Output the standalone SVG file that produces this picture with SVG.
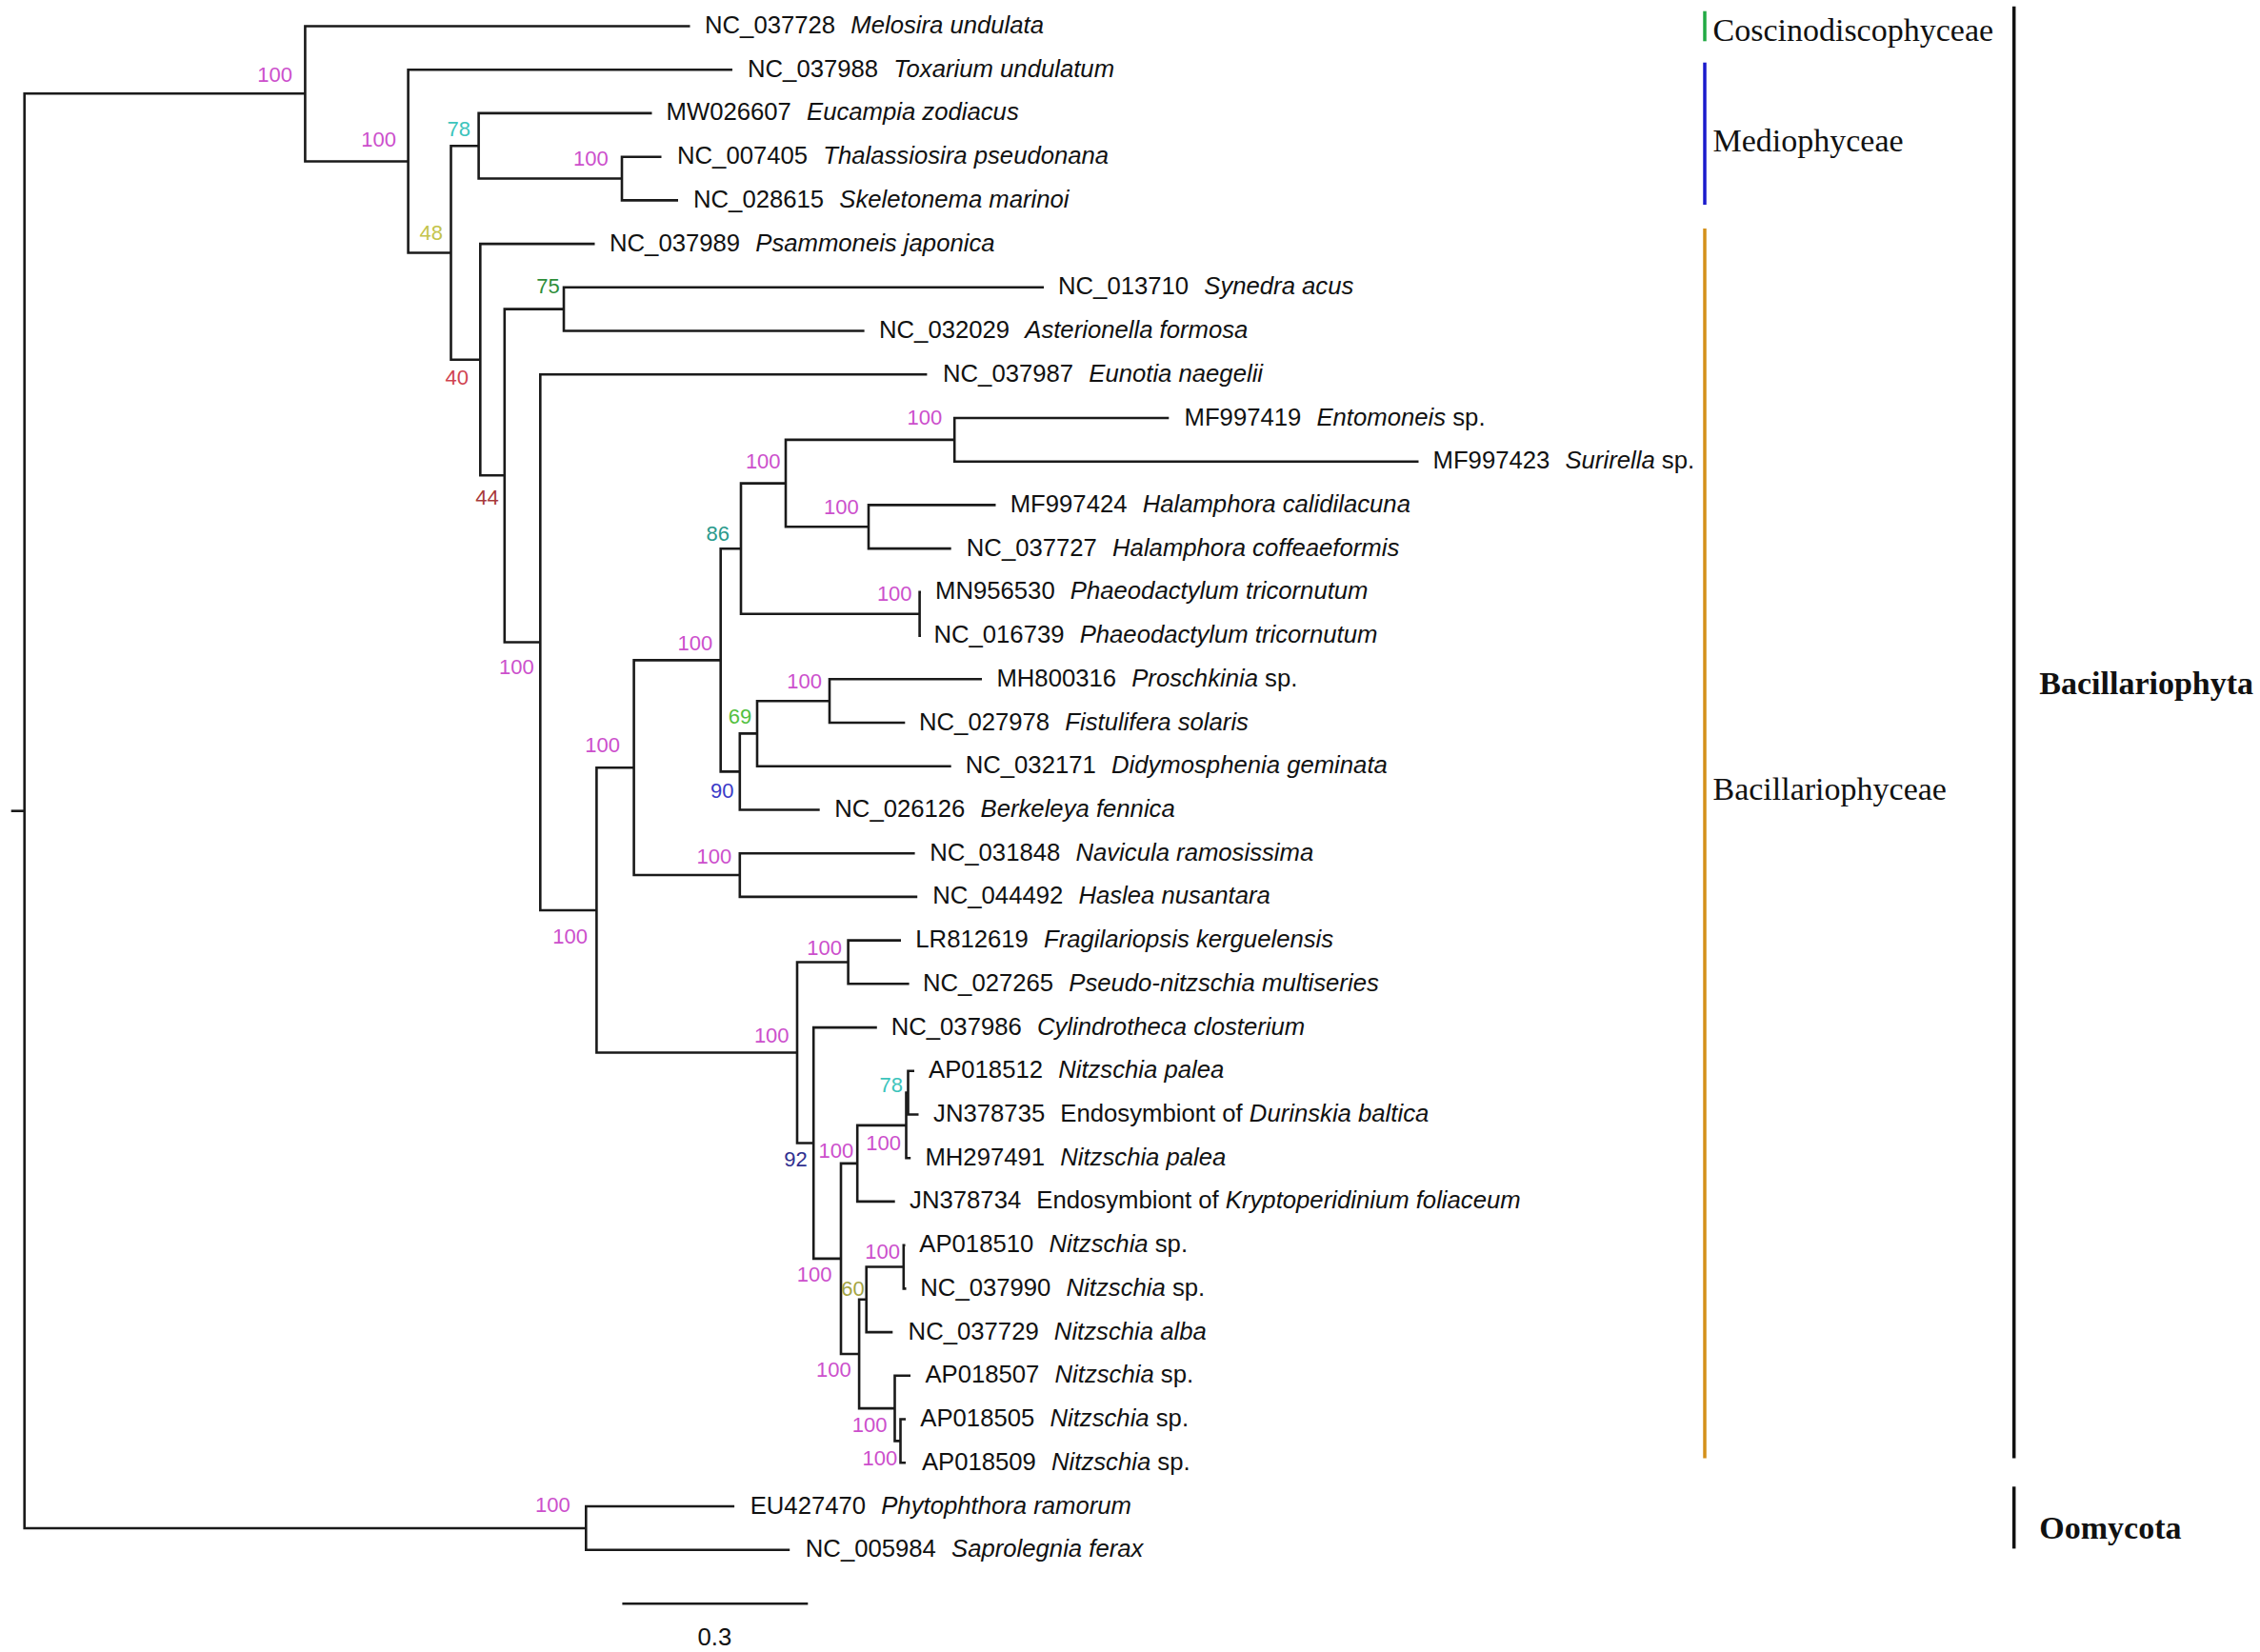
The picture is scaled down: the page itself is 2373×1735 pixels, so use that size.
<svg xmlns="http://www.w3.org/2000/svg" width="2373" height="1735" viewBox="0 0 2373 1735">
<style>
.br{fill:none;stroke:#1a1a1a;stroke-width:2.6;stroke-linejoin:miter}
.lf{font-family:"Liberation Sans",Arial,sans-serif;font-size:25.7px;fill:#111}
.it{font-style:italic}
.bs{font-family:"Liberation Sans",Arial,sans-serif;font-size:22px;text-anchor:end}
.m{fill:#cc4fcc}.cy{fill:#3cc4bc}.yl{fill:#c4c44c}.rd{fill:#d04450}.dr{fill:#a83a3a}.gr{fill:#2e8e3a}.tl{fill:#2a9a8c}.lg{fill:#52c040}.bl{fill:#3a3ac8}.nv{fill:#303090}.ol{fill:#a4a444}
.cl{font-family:"Liberation Serif","Times New Roman",serif;font-size:34px;fill:#111}
.ph{font-weight:bold}
</style>
<rect width="2373" height="1735" fill="#fff"/>
<g id="connectors">
<path class="br" d="M11.7 851.7 H25.7"/>
<path class="br" d="M320.4 98.3 H25.7 V1605 H615.3"/>
<path class="br" d="M724.5 27.5 H320.4 V169.5 H428.6"/>
<path class="br" d="M769 73.2 H428.6 V265.5 H473.5"/>
<path class="br" d="M502.6 153.3 H473.5 V377.7 H504.3"/>
<path class="br" d="M684.5 118.9 H502.6 V187.5 H653"/>
<path class="br" d="M694.5 164.7 H653 V210.4 H712"/>
<path class="br" d="M624.5 256.1 H504.3 V499.3 H529.8"/>
<path class="br" d="M592 324.6 H529.8 V674.5 H567.3"/>
<path class="br" d="M1096 301.8 H592 V347.5 H907.6"/>
<path class="br" d="M973.4 393.3 H567.3 V956 H626.4"/>
<path class="br" d="M665.6 806.2 H626.4 V1105.5 H837"/>
<path class="br" d="M756.7 693.4 H665.6 V919 H776.8"/>
<path class="br" d="M778 576.2 H756.7 V810.4 H776.8"/>
<path class="br" d="M825 507.6 H778 V644.7 H965.6"/>
<path class="br" d="M1002.2 461.9 H825 V553.3 H912"/>
<path class="br" d="M1227.3 439 H1002.2 V484.7 H1489.5"/>
<path class="br" d="M1045.5 530.4 H912 V576.1 H998.7"/>
<path class="br" d="M967 621.9 H965.6 V667.6 H967"/>
<path class="br" d="M795 770.4 H776.8 V850.5 H860.7"/>
<path class="br" d="M871 736.2 H795 V804.7 H998.7"/>
<path class="br" d="M1031 713.3 H871 V759 H950.3"/>
<path class="br" d="M960.6 896.2 H776.8 V941.9 H963.2"/>
<path class="br" d="M890.6 1010.5 H837 V1200.5 H854.2"/>
<path class="br" d="M946 987.6 H890.6 V1033.3 H954.6"/>
<path class="br" d="M920.8 1079.1 H854.2 V1321.9 H883"/>
<path class="br" d="M900.2 1221.9 H883 V1422 H902.1"/>
<path class="br" d="M951.5 1181.9 H900.2 V1261.9 H939.7"/>
<path class="br" d="M953.5 1147.6 H951.5 V1216.2 H956.2"/>
<path class="br" d="M960 1124.8 H953.5 V1170.5 H964.5"/>
<path class="br" d="M909.7 1364.8 H902.1 V1479.1 H939.5"/>
<path class="br" d="M948.8 1330.5 H909.7 V1399.1 H937.3"/>
<path class="br" d="M950.5 1307.7 H948.8 V1353.4 H951.5"/>
<path class="br" d="M956 1444.8 H939.5 V1513.4 H945.5"/>
<path class="br" d="M951 1490.5 H945.5 V1536.3 H951"/>
<path class="br" d="M771.1 1582 H615.3 V1627.7 H829.2"/>
</g>
<g id="support">
<text class="bs m" x="307" y="85.7">100</text>
<text class="bs m" x="416" y="153.5">100</text>
<text class="bs cy" x="494" y="142.7">78</text>
<text class="bs m" x="638.8" y="174">100</text>
<text class="bs yl" x="465" y="252.3">48</text>
<text class="bs rd" x="492" y="404.3">40</text>
<text class="bs gr" x="587.8" y="308.3">75</text>
<text class="bs dr" x="523.7" y="529.8">44</text>
<text class="bs m" x="560.7" y="708">100</text>
<text class="bs m" x="617" y="990.6">100</text>
<text class="bs m" x="651" y="790">100</text>
<text class="bs m" x="748.2" y="683.4">100</text>
<text class="bs tl" x="766" y="567.7">86</text>
<text class="bs m" x="819.6" y="491.9">100</text>
<text class="bs m" x="989.3" y="445.6">100</text>
<text class="bs m" x="901.8" y="540.3">100</text>
<text class="bs m" x="957.6" y="630.8">100</text>
<text class="bs m" x="863" y="723.4">100</text>
<text class="bs lg" x="789.3" y="759.5">69</text>
<text class="bs bl" x="770.5" y="838.4">90</text>
<text class="bs m" x="768.3" y="906.8">100</text>
<text class="bs m" x="828.6" y="1095">100</text>
<text class="bs m" x="884" y="1002.7">100</text>
<text class="bs nv" x="847.7" y="1225">92</text>
<text class="bs m" x="873.4" y="1346.4">100</text>
<text class="bs m" x="896.3" y="1215.6">100</text>
<text class="bs cy" x="948" y="1147">78</text>
<text class="bs m" x="946" y="1208">100</text>
<text class="bs m" x="945" y="1321.9">100</text>
<text class="bs ol" x="907.8" y="1360.7">60</text>
<text class="bs m" x="893.7" y="1445.5">100</text>
<text class="bs m" x="931.5" y="1503.6">100</text>
<text class="bs m" x="942.3" y="1539.3">100</text>
<text class="bs m" x="598.7" y="1588.3">100</text>
</g>
<g id="leaves" transform="translate(0,-1.5)">
<g id="leaf1"><text class="lf" x="740" y="36.5">NC_037728 <tspan class="it" dx="9">Melosira undulata</tspan></text></g>
<g id="leaf2"><text class="lf" x="785" y="82.2">NC_037988 <tspan class="it" dx="9">Toxarium undulatum</tspan></text></g>
<g id="leaf3"><text class="lf" x="699.5" y="127.9">MW026607 <tspan class="it" dx="9">Eucampia zodiacus</tspan></text></g>
<g id="leaf4"><text class="lf" x="711" y="173.7">NC_007405 <tspan class="it" dx="9">Thalassiosira pseudonana</tspan></text></g>
<g id="leaf5"><text class="lf" x="728" y="219.4">NC_028615 <tspan class="it" dx="9">Skeletonema marinoi</tspan></text></g>
<g id="leaf6"><text class="lf" x="640" y="265.1">NC_037989 <tspan class="it" dx="9">Psammoneis japonica</tspan></text></g>
<g id="leaf7"><text class="lf" x="1111" y="310.8">NC_013710 <tspan class="it" dx="9">Synedra acus</tspan></text></g>
<g id="leaf8"><text class="lf" x="923" y="356.5">NC_032029 <tspan class="it" dx="9">Asterionella formosa</tspan></text></g>
<g id="leaf9"><text class="lf" x="990" y="402.3">NC_037987 <tspan class="it" dx="9">Eunotia naegelii</tspan></text></g>
<g id="leaf10"><text class="lf" x="1243.5" y="448">MF997419 <tspan class="it" dx="9">Entomoneis</tspan> sp.</text></g>
<g id="leaf11"><text class="lf" x="1504.5" y="493.7">MF997423 <tspan class="it" dx="9">Surirella</tspan> sp.</text></g>
<g id="leaf12"><text class="lf" x="1060.7" y="539.4">MF997424 <tspan class="it" dx="9">Halamphora calidilacuna</tspan></text></g>
<g id="leaf13"><text class="lf" x="1014.8" y="585.1">NC_037727 <tspan class="it" dx="9">Halamphora coffeaeformis</tspan></text></g>
<g id="leaf14"><text class="lf" x="982" y="630.9">MN956530 <tspan class="it" dx="9">Phaeodactylum tricornutum</tspan></text></g>
<g id="leaf15"><text class="lf" x="980.4" y="676.6">NC_016739 <tspan class="it" dx="9">Phaeodactylum tricornutum</tspan></text></g>
<g id="leaf16"><text class="lf" x="1046.4" y="722.3">MH800316 <tspan class="it" dx="9">Proschkinia</tspan> sp.</text></g>
<g id="leaf17"><text class="lf" x="965" y="768">NC_027978 <tspan class="it" dx="9">Fistulifera solaris</tspan></text></g>
<g id="leaf18"><text class="lf" x="1013.7" y="813.7">NC_032171 <tspan class="it" dx="9">Didymosphenia geminata</tspan></text></g>
<g id="leaf19"><text class="lf" x="876.3" y="859.5">NC_026126 <tspan class="it" dx="9">Berkeleya fennica</tspan></text></g>
<g id="leaf20"><text class="lf" x="976.2" y="905.2">NC_031848 <tspan class="it" dx="9">Navicula ramosissima</tspan></text></g>
<g id="leaf21"><text class="lf" x="979.2" y="950.9">NC_044492 <tspan class="it" dx="9">Haslea nusantara</tspan></text></g>
<g id="leaf22"><text class="lf" x="961.3" y="996.6">LR812619 <tspan class="it" dx="9">Fragilariopsis kerguelensis</tspan></text></g>
<g id="leaf23"><text class="lf" x="969" y="1042.3">NC_027265 <tspan class="it" dx="9">Pseudo-nitzschia multiseries</tspan></text></g>
<g id="leaf24"><text class="lf" x="935.7" y="1088.1">NC_037986 <tspan class="it" dx="9">Cylindrotheca closterium</tspan></text></g>
<g id="leaf25"><text class="lf" x="975" y="1133.8">AP018512 <tspan class="it" dx="9">Nitzschia palea</tspan></text></g>
<g id="leaf26"><text class="lf" x="980.1" y="1179.5">JN378735 <tspan dx="9">Endosymbiont of </tspan><tspan class="it">Durinskia baltica</tspan></text></g>
<g id="leaf27"><text class="lf" x="971.4" y="1225.2">MH297491 <tspan class="it" dx="9">Nitzschia palea</tspan></text></g>
<g id="leaf28"><text class="lf" x="955.1" y="1270.9">JN378734 <tspan dx="9">Endosymbiont of </tspan><tspan class="it">Kryptoperidinium foliaceum</tspan></text></g>
<g id="leaf29"><text class="lf" x="965.3" y="1316.7">AP018510 <tspan class="it" dx="9">Nitzschia</tspan> sp.</text></g>
<g id="leaf30"><text class="lf" x="966.3" y="1362.4">NC_037990 <tspan class="it" dx="9">Nitzschia</tspan> sp.</text></g>
<g id="leaf31"><text class="lf" x="953.6" y="1408.1">NC_037729 <tspan class="it" dx="9">Nitzschia alba</tspan></text></g>
<g id="leaf32"><text class="lf" x="971.4" y="1453.8">AP018507 <tspan class="it" dx="9">Nitzschia</tspan> sp.</text></g>
<g id="leaf33"><text class="lf" x="966.3" y="1499.5">AP018505 <tspan class="it" dx="9">Nitzschia</tspan> sp.</text></g>
<g id="leaf34"><text class="lf" x="967.9" y="1545.3">AP018509 <tspan class="it" dx="9">Nitzschia</tspan> sp.</text></g>
<g id="leaf35"><text class="lf" x="787.7" y="1591">EU427470 <tspan class="it" dx="9">Phytophthora ramorum</tspan></text></g>
<g id="leaf36"><text class="lf" x="845.8" y="1636.7">NC_005984 <tspan class="it" dx="9">Saprolegnia ferax</tspan></text></g>
</g>
<g id="clades">
<g id="coscinodiscophyceae"><line x1="1790" y1="11.7" x2="1790" y2="43.3" stroke="#22aa44" stroke-width="3.5"/><text class="cl" x="1798.5" y="43">Coscinodiscophyceae</text></g>
<g id="mediophyceae"><line x1="1790" y1="65.7" x2="1790" y2="215" stroke="#1a1acc" stroke-width="3.5"/><text class="cl" x="1798.5" y="159">Mediophyceae</text></g>
<g id="bacillariophyceae"><line x1="1790" y1="240" x2="1790" y2="1531.6" stroke="#d4901a" stroke-width="3.5"/><text class="cl" x="1798.5" y="840.3">Bacillariophyceae</text></g>
<g id="bacillariophyta"><line x1="2114.7" y1="6.7" x2="2114.7" y2="1531.6" stroke="#111" stroke-width="3.5"/><text class="cl ph" x="2141.3" y="728.8">Bacillariophyta</text></g>
<g id="oomycota"><line x1="2114.7" y1="1561.3" x2="2114.7" y2="1626.4" stroke="#111" stroke-width="3.5"/><text class="cl ph" x="2141.3" y="1615.6">Oomycota</text></g>
</g>
<g id="scale">
<line x1="653.4" y1="1684.3" x2="848.3" y2="1684.3" stroke="#1a1a1a" stroke-width="2.5"/>
<text class="lf" x="750.4" y="1728" text-anchor="middle" font-size="24">0.3</text>
</g>
</svg>
